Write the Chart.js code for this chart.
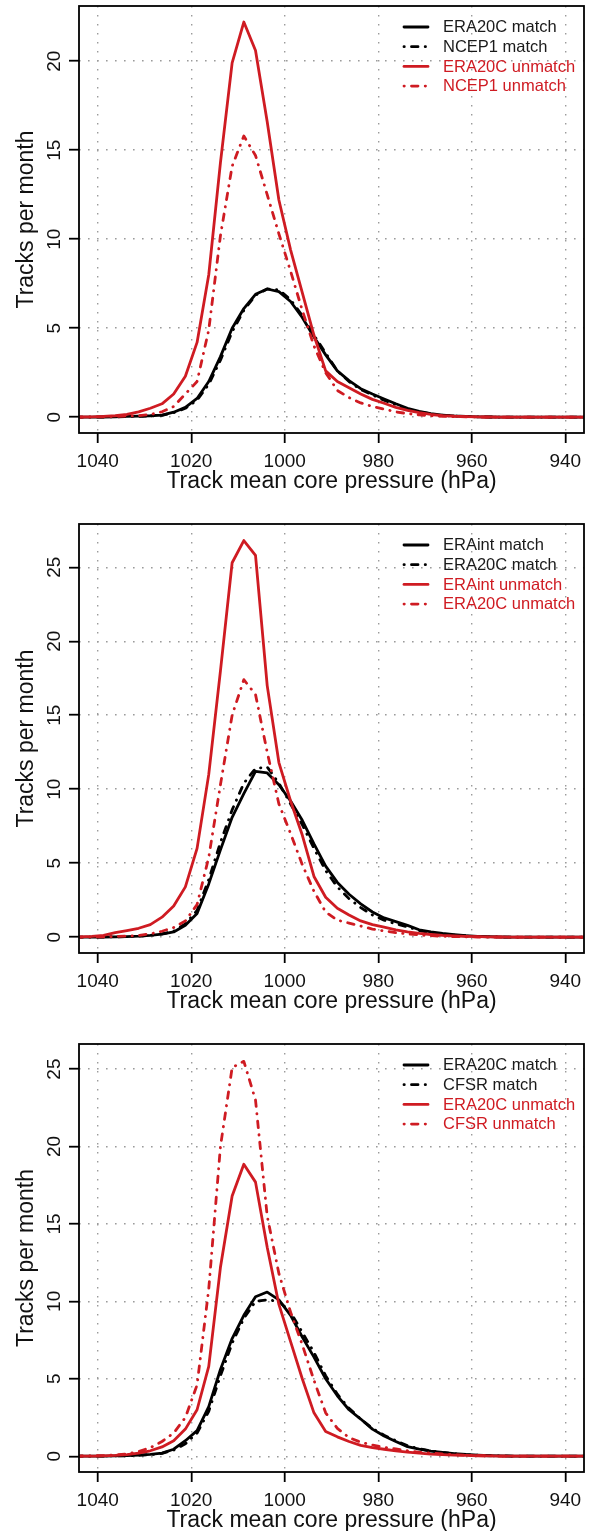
<!DOCTYPE html>
<html><head><meta charset="utf-8">
<script src="https://cdn.jsdelivr.net/npm/chart.js@4.4.1/dist/chart.umd.min.js"></script>
<style>
html,body{margin:0;padding:0;background:#fff;overflow:hidden;width:590px;height:1531px;position:relative}
canvas{position:absolute;left:0}
</style></head><body>
<canvas id="c1" width="590" height="500" style="top:0px"></canvas>
<canvas id="c2" width="590" height="510" style="top:510px"></canvas>
<canvas id="c3" width="590" height="519" style="top:1020px"></canvas>
<script>
// ---------- data ----------
const PRESSURE = [1046.25,1043.75,1041.25,1038.75,1036.25,1033.75,1031.25,1028.75,1026.25,1023.75,
  1021.25,1018.75,1016.25,1013.75,1011.25,1008.75,1006.25,1003.75,1001.25,998.75,
  996.25,993.75,991.25,988.75,986.25,983.75,981.25,978.75,976.25,973.75,
  971.25,968.75,966.25,963.75,961.25,958.75,956.25,953.75,951.25,948.75,
  946.25,943.75,941.25,938.75,936.25,933.75];

const X_TICKS = [1040, 1020, 1000, 980, 960, 940];
const Y_TICKS_1 = [0, 5, 10, 15, 20];
const Y_TICKS_2 = [0, 5, 10, 15, 20, 25];
const Y_TICKS_3 = [0, 5, 10, 15, 20, 25];

const X_TITLE = 'Track mean core pressure (hPa)';
const Y_TITLE = 'Tracks per month';

// Panel 1
const P1_NAMES = ['ERA20C match', 'NCEP1 match', 'ERA20C unmatch', 'NCEP1 unmatch'];
const P1_ERA20C_MATCH = [0,0,0,0.01,0.02,0.04,0.06,0.08,0.12,0.28,0.55,1.05,2.0,3.4,5.0,6.1,6.9,7.2,7.05,6.5,5.6,4.5,3.5,2.6,2.05,1.6,1.3,1.02,0.75,0.5,0.32,0.2,0.12,0.07,0.04,0.02,0.01,0,0,0,0,0,0,0,0,0];
const P1_NCEP1_MATCH = [0,0,0,0.01,0.02,0.03,0.05,0.07,0.1,0.25,0.5,0.95,1.85,3.2,4.8,6.0,6.85,7.2,7.15,6.6,5.7,4.6,3.6,2.6,2.0,1.55,1.25,0.95,0.7,0.45,0.3,0.18,0.11,0.06,0.03,0.02,0.01,0,0,0,0,0,0,0,0,0];
const P1_ERA20C_UNMATCH = [0,0.01,0.02,0.04,0.08,0.15,0.3,0.5,0.75,1.3,2.3,4.2,8.0,14.3,19.9,22.2,20.6,16.6,12.2,9.4,7.0,4.6,2.6,2.0,1.65,1.3,1.0,0.78,0.55,0.38,0.25,0.15,0.09,0.05,0.03,0.02,0.01,0,0,0,0,0,0,0,0,0];
const P1_NCEP1_UNMATCH = [0,0,0.01,0.02,0.04,0.06,0.08,0.15,0.3,0.6,1.3,2.0,4.9,10.2,14.1,15.8,14.7,12.5,10.3,8.2,6.0,4.0,2.5,1.5,1.1,0.8,0.6,0.45,0.3,0.2,0.13,0.08,0.05,0.03,0.02,0.01,0,0,0,0,0,0,0,0,0,0];

// Panel 2
const P2_NAMES = ['ERAint match', 'ERA20C match', 'ERAint unmatch', 'ERA20C unmatch'];
const P2_ERAINT_MATCH = [0,0,0,0.01,0.02,0.04,0.07,0.12,0.2,0.35,0.8,1.6,3.6,5.9,8.1,9.7,11.2,11.1,10.3,9.2,7.9,6.3,4.8,3.7,2.9,2.25,1.7,1.3,1.05,0.8,0.5,0.35,0.25,0.17,0.1,0.06,0.03,0.01,0,0,0,0,0,0,0,0];
const P2_ERA20C_MATCH = [0,0,0,0.01,0.02,0.04,0.07,0.12,0.22,0.4,0.9,1.8,3.9,6.4,8.6,10.4,11.4,11.5,10.4,9.0,7.6,6.0,4.5,3.4,2.6,2.0,1.5,1.15,0.9,0.7,0.45,0.3,0.2,0.13,0.08,0.05,0.02,0.01,0,0,0,0,0,0,0,0];
const P2_ERAINT_UNMATCH = [0,0.02,0.05,0.12,0.3,0.45,0.6,0.85,1.35,2.1,3.4,6.0,11.0,18.0,25.3,26.8,25.8,17.0,11.8,9.2,6.9,4.1,2.7,1.95,1.5,1.1,0.85,0.68,0.5,0.36,0.25,0.18,0.12,0.08,0.05,0.03,0.02,0.01,0,0,0,0,0,0,0,0];
const P2_ERA20C_UNMATCH = [0,0,0.01,0.02,0.04,0.07,0.12,0.22,0.4,0.65,1.1,2.2,5.4,10.3,15.0,17.4,16.4,12.5,9.0,7.0,4.9,3.1,1.7,1.15,0.95,0.75,0.55,0.42,0.3,0.22,0.15,0.1,0.06,0.04,0.02,0.01,0,0,0,0,0,0,0,0,0,0];

// Panel 3
const P3_NAMES = ['ERA20C match', 'CFSR match', 'ERA20C unmatch', 'CFSR unmatch'];
const P3_ERA20C_MATCH = [0,0,0,0.01,0.02,0.04,0.07,0.12,0.2,0.45,1.0,1.65,3.2,5.6,7.6,9.1,10.3,10.6,10.1,9.1,7.7,6.4,5.0,3.9,3.0,2.4,1.75,1.3,0.95,0.62,0.45,0.33,0.24,0.17,0.11,0.07,0.04,0.02,0.01,0,0,0,0,0,0,0];
const P3_CFSR_MATCH = [0,0,0,0.01,0.02,0.03,0.06,0.1,0.18,0.4,0.8,1.5,2.9,5.2,7.3,8.9,10.0,10.1,10.0,9.3,8.0,6.7,5.2,4.0,3.1,2.4,1.8,1.35,1.0,0.68,0.48,0.34,0.24,0.16,0.1,0.06,0.03,0.02,0.01,0,0,0,0,0,0,0];
const P3_ERA20C_UNMATCH = [0,0,0.01,0.02,0.05,0.1,0.2,0.35,0.6,1.0,1.75,3.0,5.8,12.2,16.8,18.85,17.7,13.5,9.8,7.4,5.0,2.8,1.6,1.25,0.95,0.7,0.55,0.45,0.35,0.27,0.2,0.14,0.1,0.07,0.05,0.03,0.02,0.01,0,0,0,0,0,0,0,0];
const P3_CFSR_UNMATCH = [0,0.01,0.02,0.04,0.08,0.15,0.3,0.55,0.95,1.5,2.5,4.6,10.8,20.0,25.1,25.5,23.0,15.5,11.8,9.3,7.2,4.9,2.8,1.8,1.2,0.9,0.72,0.58,0.47,0.35,0.25,0.2,0.14,0.1,0.06,0.04,0.02,0.01,0,0,0,0,0,0,0,0];

// ---------- styles ----------
const BLACK = '#000000';
const RED = '#CF1B22';
const FONT = "'Liberation Sans', Arial, Helvetica, sans-serif";
const DOTDASH = [0.3, 7.2, 6.5, 7.2];

function makeSets(names, series) {
  const styles = [
    {color: BLACK, dash: [], order: 4},
    {color: BLACK, dash: DOTDASH, order: 3},
    {color: RED, dash: [], order: 2},
    {color: RED, dash: DOTDASH, order: 1}
  ];
  return series.map((vals, i) => ({
    label: names[i],
    data: PRESSURE.map((p, k) => ({x: p, y: vals[k]})),
    borderColor: styles[i].color,
    backgroundColor: styles[i].color,
    borderDash: styles[i].dash,
    borderWidth: 2.8,
    borderCapStyle: 'round',
    borderJoinStyle: 'round',
    pointRadius: 0,
    tension: 0,
    fill: false,
    order: styles[i].order
  }));
}

const boxAndLabels = {
  id: 'boxAndLabels',
  afterDatasetsDraw(chart) {
    const {ctx, chartArea: a} = chart;
    ctx.save();
    ctx.strokeStyle = '#000';
    ctx.lineWidth = 1.8;
    ctx.setLineDash([]);
    ctx.strokeRect(a.left, a.top, a.right - a.left, a.bottom - a.top);
    // legend
    const ds = chart.data.datasets;
    ctx.font = '16.5px ' + FONT;
    ctx.textBaseline = 'middle';
    ctx.textAlign = 'left';
    ds.forEach((d, i) => {
      const y = a.top + 21 + i * 19.7;
      ctx.beginPath();
      ctx.strokeStyle = d.borderColor;
      ctx.lineWidth = d.borderWidth;
      ctx.lineCap = 'round';
      ctx.setLineDash(d.borderDash);
      ctx.moveTo(a.right - 180, y);
      ctx.lineTo(a.right - 156, y);
      ctx.stroke();
      ctx.setLineDash([]);
      ctx.fillStyle = d.borderColor === RED ? RED : '#1a1a1a';
      ctx.fillText(d.label, a.right - 141, y + 0.8);
    });
    ctx.restore();
  },
  afterDraw(chart) {
    // rotated y tick labels, as in the original figure
    const {ctx, chartArea: a} = chart;
    const ys = chart.scales.y;
    ctx.save();
    ctx.font = '19px ' + FONT;
    ctx.fillStyle = '#111';
    ctx.textAlign = 'center';
    ctx.textBaseline = 'alphabetic';
    ys.ticks.forEach(t => {
      const py = ys.getPixelForValue(t.value);
      ctx.save();
      ctx.translate(a.left - 19.5, py);
      ctx.rotate(-Math.PI / 2);
      ctx.fillText(String(t.value), 0, 0);
      ctx.restore();
    });
    ctx.restore();
  }
};

function makeChart(id, names, series, yTicks, yMin, yMax, padTop) {
  const gridCommon = {
    color: '#9b9b9b',
    lineWidth: 1.4,
    drawTicks: true,
    tickLength: 10,
    tickColor: '#000',
    tickWidth: 1.8,
    tickBorderDash: []
  };
  const borderCommon = {display: false, dash: [1.6, 7.4]};
  return new Chart(document.getElementById(id), {
    type: 'line',
    data: {datasets: makeSets(names, series)},
    options: {
      responsive: false,
      devicePixelRatio: 1,
      animation: false,
      events: [],
      layout: {padding: {top: padTop, right: 6, left: 0, bottom: 0}},
      plugins: {legend: {display: false}, tooltip: {enabled: false}},
      scales: {
        x: {
          type: 'linear', reverse: true, min: 936, max: 1044,
          afterBuildTicks: s => { s.ticks = X_TICKS.map(v => ({value: v})); },
          afterFit: s => { s.height = 67; },
          grid: gridCommon,
          border: borderCommon,
          ticks: {font: {family: FONT, size: 19}, color: '#111', padding: 7, maxRotation: 0, autoSkip: false,
                  callback: v => String(v)},
          title: {display: true, text: X_TITLE, font: {family: FONT, size: 23}, color: '#111',
                  padding: {top: 0, bottom: 5}}
        },
        y: {
          type: 'linear', min: yMin, max: yMax,
          afterBuildTicks: s => { s.ticks = yTicks.map(v => ({value: v})); },
          afterFit: s => { s.width = 79; },
          grid: gridCommon,
          border: borderCommon,
          ticks: {display: false},
          title: {display: true, text: Y_TITLE, font: {family: FONT, size: 23}, color: '#111',
                  padding: {top: 13, bottom: 0}}
        }
      }
    },
    plugins: [boxAndLabels]
  });
}

makeChart('c1', P1_NAMES, [P1_ERA20C_MATCH, P1_NCEP1_MATCH, P1_ERA20C_UNMATCH, P1_NCEP1_UNMATCH], Y_TICKS_1, -0.89, 23.1, 6);
makeChart('c2', P2_NAMES, [P2_ERAINT_MATCH, P2_ERA20C_MATCH, P2_ERAINT_UNMATCH, P2_ERA20C_UNMATCH], Y_TICKS_2, -1.07, 27.92, 14);
makeChart('c3', P3_NAMES, [P3_ERA20C_MATCH, P3_CFSR_MATCH, P3_ERA20C_UNMATCH, P3_CFSR_UNMATCH], Y_TICKS_3, -1.02, 26.62, 24);
</script>
</body></html>
